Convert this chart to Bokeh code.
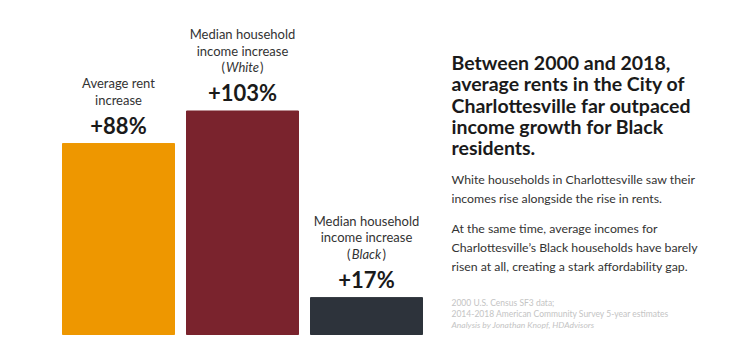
from bokeh.plotting import figure
from bokeh.models import Range1d, ColumnDataSource
from bokeh.core.properties import value
from bokeh.embed import file_html
from bokeh.resources import INLINE

# ---- data ----
categories = ["Average rent increase", "Median household income increase (White)",
              "Median household income increase (Black)"]
label_lines = [["Average rent", "increase"],
               ["Median household", "income increase", "(White)"],
               ["Median household", "income increase", "(Black)"]]
values = [88, 103, 17]
value_labels = ["+88%", "+103%", "+17%"]
colors = ["#EE9700", "#7A232D", "#2D333B"]

title_lines = ["Between 2000 and 2018,", "average rents in the City of",
               "Charlottesville far outpaced", "income growth for Black", "residents."]
body_lines_1 = ["White households in Charlottesville saw their",
                "incomes rise alongside the rise in rents."]
body_lines_2 = ["At the same time, average incomes for",
                "Charlottesville\u2019s Black households have barely",
                "risen at all, creating a stark affordability gap."]
source_lines = ["2000 U.S. Census SF3 data;",
                "2014-2018 American Community Survey 5-year estimates"]
credit_line = "Analysis by Jonathan Knopf, HDAdvisors"

W, H = 734, 346
PX_PER_UNIT = 2.17
BASE_Y = 334  # screen y of zero line
K = 0.46  # baseline correction (fraction of font size)

p = figure(width=W, height=H, output_backend="svg", toolbar_location=None,
           x_range=Range1d((0 - 118) / 124, (W - 118) / 124),
           y_range=Range1d(-(H - BASE_Y) / PX_PER_UNIT, BASE_Y / PX_PER_UNIT),
           min_border=0, outline_line_color=None, background_fill_color="white",
           border_fill_color="white")
p.axis.visible = False
p.grid.visible = False
p.extra_x_ranges = {"px": Range1d(0, W)}
p.extra_y_ranges = {"px": Range1d(H, 0)}

xs = list(range(len(values)))
src = ColumnDataSource(dict(x=xs, top=values, color=colors, lab=value_labels))
p.vbar(x="x", top="top", bottom=0, width=112 / 124, color="color", source=src)

FONT = "Lato"
VF = 22
p.text(x="x", y="top", text="lab", source=src, y_offset=-(8 + K * VF),
       text_align="center", text_baseline="alphabetic",
       text_font=value(FONT), text_font_style="bold", text_font_size=f"{VF}px",
       text_color="#1a1a1a")

# category labels (lines above each value label)
CF = 13
ITALIC_W = {"White": 34, "Black": 31}  # approx rendered width of the italic word
for i, lines in enumerate(label_lines):
    n = len(lines)
    for j, line in enumerate(lines):
        off = -(38 + 16.5 * (n - 1 - j) + K * CF)
        common = dict(y_offset=off, text_baseline="alphabetic", text_font=value(FONT),
                      text_font_size=f"{CF}px", text_color="#333333")
        if line.startswith("("):
            word = line[1:-1]
            hw = ITALIC_W.get(word, 32) / 2
            p.text(x=[xs[i]], y=[values[i]], text=[word], text_align="center",
                   text_font_style="italic", **common)
            p.text(x=[xs[i]], y=[values[i]], text=["("], text_align="right",
                   x_offset=-hw - 0.5, **common)
            p.text(x=[xs[i]], y=[values[i]], text=[")"], text_align="left",
                   x_offset=hw + 0.5, **common)
        else:
            p.text(x=[xs[i]], y=[values[i]], text=[line], text_align="center", **common)


def px_text(xv, yv, texts, size, color, style="normal"):
    p.text(x=xv, y=[y - K * size for y in yv], text=texts,
           x_range_name="px", y_range_name="px",
           text_align="left", text_baseline="alphabetic", text_font=value(FONT),
           text_font_style=style, text_font_size=f"{size}px", text_color=color)


TX = 451
px_text([TX] * 5, [71 + 21.3 * k for k in range(5)], title_lines, 19.5, "#1a1a1a", "bold")
px_text([TX] * 2, [185, 203.5], body_lines_1, 12.3, "#333333")
px_text([TX] * 3, [234, 253, 272], body_lines_2, 12.3, "#333333")
px_text([TX] * 2, [306, 317], source_lines, 8.5, "#c4c4c4")
px_text([TX], [328], [credit_line], 8.5, "#c4c4c4", "italic")

open("out.html", "w").write(file_html(p, INLINE))
